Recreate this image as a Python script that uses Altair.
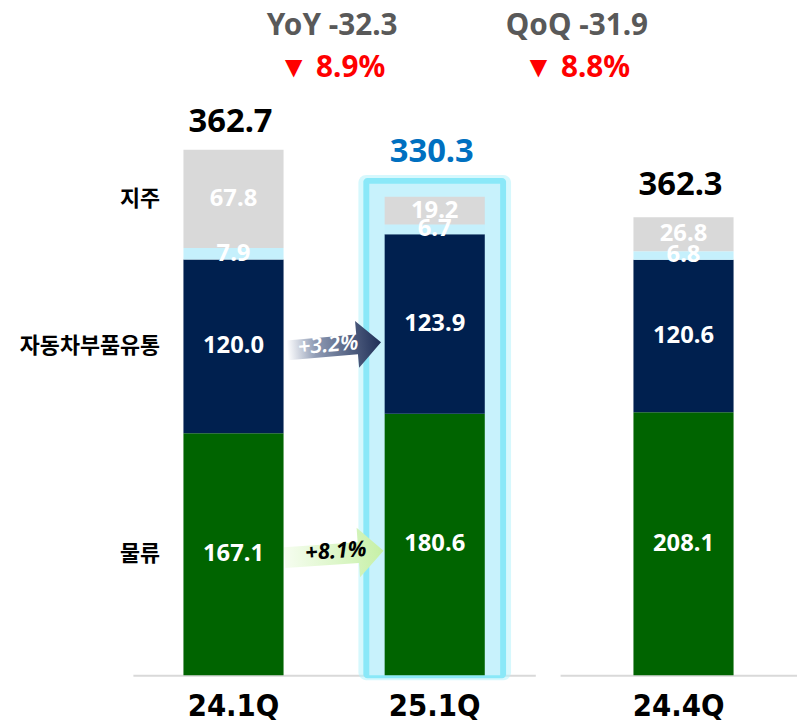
import altair as alt
import pandas as pd

# ---------------- data ----------------
quarters = ["24.1Q", "25.1Q", "24.4Q"]
seg_names = ["물류", "자동차부품유통", "기타", "지주"]
logistics = [167.1, 180.6, 208.1]      # 물류
auto_parts = [120.0, 123.9, 120.6]     # 자동차부품유통
others = [7.9, 6.7, 6.8]               # 기타 (light blue)
holding = [67.8, 19.2, 26.8]           # 지주
totals = [362.7, 330.3, 362.3]
seg_colors = ["#006400", "#00204f", "#c5f0fc", "#d9d9d9"]
growth_labels = ["+3.2%", "+8.1%"]     # 자동차부품유통, 물류 (24.1Q -> 25.1Q)
yoy_lines = ["YoY -32.3", "▼ 8.9%"]
qoq_lines = ["QoQ -31.9", "▼ 8.8%"]

# ---------------- layout constants ----------------
H = 665
LEFT_PX = 1.4613    # px per unit, left panel
RIGHT_PX = 1.2752   # px per unit, right panel
NUM_FONT = "Noto Sans"
KR_FONT = "Noto Sans CJK KR"
AX_FONT = "DejaVu Sans Condensed, Liberation Sans Narrow, Roboto, sans-serif"

rows = []
for i, q in enumerate(quarters):
    base = 0.0
    for s, vals in zip(seg_names, [logistics, auto_parts, others, holding]):
        v = vals[i]
        rows.append(dict(q=q, seg=s, v=v, y0=base, y1=base + v,
                         mid=base + v / 2, lab=f"{v:.1f}"))
        base += v
seg = pd.DataFrame(rows)
stack_top = seg.groupby("q")["y1"].max().to_dict()

tot = pd.DataFrame({"q": quarters, "total": totals,
                    "lab": [f"{t:.1f}" for t in totals]})
tot["top"] = tot["q"].map(stack_top)
tot["tc"] = ["#000000", "#0070c0", "#000000"]
# highlighted bar label sits above the glow frame
tot["ly"] = tot["top"] + tot["q"].map({"24.1Q": 0, "25.1Q": 17 / LEFT_PX, "24.4Q": 0})

left_q = quarters[:2]
right_q = quarters[2:]

yL = alt.Scale(domain=[0, H / LEFT_PX], nice=False, zero=True)
yR = alt.Scale(domain=[0, H / RIGHT_PX], nice=False, zero=True)
xL = alt.Scale(domain=left_q, paddingInner=0, paddingOuter=0)
xR = alt.Scale(domain=right_q, paddingInner=0, paddingOuter=0)
color = alt.Color("seg:N", scale=alt.Scale(domain=seg_names, range=seg_colors), legend=None)

segL = seg[seg.q.isin(left_q)]
segR = seg[seg.q.isin(right_q)]

# glow frame around 25.1Q
t25 = stack_top["25.1Q"]
glow = pd.DataFrame({
    "q": ["25.1Q"],
    "o_top": [t25 + 22 / LEFT_PX], "o_bot": [-5 / LEFT_PX],
    "m_top": [t25 + 19 / LEFT_PX], "m_bot": [-3 / LEFT_PX],
    "i_top": [t25 + 13 / LEFT_PX], "i_bot": [0.0],
})

def X(scale, **kw):
    return alt.X("q:N", scale=scale, title=None, **kw)

g1 = alt.Chart(glow).mark_bar(width=154, color="#b5f2fc", opacity=0.55, cornerRadius=8).encode(
    x=X(xL), y=alt.Y("o_top:Q", scale=yL, axis=None), y2="o_bot:Q")
g2 = alt.Chart(glow).mark_bar(width=144, color="#8ae8f8", cornerRadius=4).encode(
    x=X(xL), y=alt.Y("m_top:Q", scale=yL, axis=None), y2="m_bot:Q")
g3 = alt.Chart(glow).mark_bar(width=132, color="#c8f2fc").encode(
    x=X(xL), y=alt.Y("i_top:Q", scale=yL, axis=None), y2="i_bot:Q")

def bars(df, xs, ys, off=0):
    return alt.Chart(df).mark_bar(width=101, xOffset=off).encode(
        x=X(xs), y=alt.Y("y1:Q", scale=ys, axis=None), y2="y0:Q", color=color)

def seg_text(df, xs, ys, off=0):
    return alt.Chart(df).mark_text(color="white", font=NUM_FONT, fontSize=24,
                                   fontWeight="bold", baseline="middle", dx=off).encode(
        x=X(xs), y=alt.Y("mid:Q", scale=ys, axis=None), text="lab:N")

def tot_text(df, xs, ys, dy, off=0):
    return alt.Chart(df).mark_text(font=NUM_FONT, fontSize=33, fontWeight="bold",
                                   baseline="alphabetic", dy=dy, dx=off - 3).encode(
        x=X(xs), y=alt.Y("ly:Q", scale=ys, axis=None), text="lab:N",
        color=alt.Color("tc:N", scale=None))

# category labels left of the first bar
cat = segL[(segL.q == "24.1Q") & (segL.seg != "기타")]
cat_text = alt.Chart(cat).mark_text(font=KR_FONT, fontSize=22, fontWeight="bold",
                                    color="#000000", align="right", baseline="middle",
                                    dx=-74).encode(
    x=X(xL), y=alt.Y("mid:Q", scale=yL, axis=None), text="seg:N")

# growth arrows between 24.1Q and 25.1Q
arrow_path = "M -1 -0.21 L 0.49 -0.21 L 0.49 -0.5 L 1 0 L 0.49 0.5 L 0.49 0.21 L -1 0.21 Z"
ar = segL[(segL.q == "24.1Q") & (segL.seg.isin(["자동차부품유통", "물류"]))].copy()
ar["g"] = ar["seg"].map({"자동차부품유통": growth_labels[0], "물류": growth_labels[1]})
ar_auto = ar[ar.seg == "자동차부품유통"]
ar_log = ar[ar.seg == "물류"]

grad_navy = alt.Gradient(gradient="linear", x1=0, y1=0, x2=1, y2=0, stops=[
    alt.GradientStop(color="#ffffff", offset=0),
    alt.GradientStop(color="#8f9bb4", offset=0.3),
    alt.GradientStop(color="#1f2f57", offset=1)])
grad_green = alt.Gradient(gradient="linear", x1=0, y1=0, x2=1, y2=0, stops=[
    alt.GradientStop(color="#f6fdf0", offset=0),
    alt.GradientStop(color="#c6f0a6", offset=1)])

a1 = alt.Chart(ar_auto).mark_point(shape=arrow_path, size=9025, filled=True, fill=grad_navy,
                                   opacity=1, strokeWidth=0, angle=355).encode(
    x=X(xL, bandPosition=1), y=alt.Y("mid:Q", scale=yL, axis=None))
a2 = alt.Chart(ar_log).mark_point(shape=arrow_path, size=10000, filled=True, fill=grad_green,
                                  opacity=1, strokeWidth=0, angle=356).encode(
    x=X(xL, bandPosition=1), y=alt.Y("mid:Q", scale=yL, axis=None))
a1t = alt.Chart(ar_auto).mark_text(font=NUM_FONT, fontSize=22, fontStyle="italic",
                                   fontWeight=600, color="white", angle=355, dx=-6, dy=-2).encode(
    x=X(xL, bandPosition=1), y=alt.Y("mid:Q", scale=yL, axis=None), text="g:N")
a2t = alt.Chart(ar_log).mark_text(font=NUM_FONT, fontSize=22, fontStyle="italic",
                                  fontWeight="bold", color="black", angle=356, dx=2, dy=-3).encode(
    x=X(xL, bandPosition=1), y=alt.Y("mid:Q", scale=yL, axis=None), text="g:N")

# YoY / QoQ annotations
ann = pd.DataFrame({"q": ["25.1Q"], "yoy": [yoy_lines[0]], "yoyp": [yoy_lines[1]],
                    "qoq": [qoq_lines[0]], "qoqp": [qoq_lines[1]]})
def ann_text(field, band, dx, ypix, col):
    return alt.Chart(ann).mark_text(font=NUM_FONT, fontSize=30, fontWeight="bold",
                                    color=col, baseline="middle", dx=dx).encode(
        x=X(xL, bandPosition=band), y=alt.value(ypix), text=f"{field}:N")

ann_layers = [ann_text("yoy", 0, -2, 10, "#595959"), ann_text("yoyp", 0, -2, 52, "#ff0000"),
              ann_text("qoq", 1, 42, 10, "#595959"), ann_text("qoqp", 1, 42, 52, "#ff0000")]

totL = tot[tot.q.isin(left_q)]
totR = tot[tot.q.isin(right_q)]

RIGHT_SHIFT = 5
left = alt.layer(g1, g2, g3, bars(segL, xL, yL), seg_text(segL, xL, yL),
                 tot_text(totL, xL, yL, -18), cat_text, a1, a2, a1t, a2t,
                 *ann_layers).properties(width=406, height=H)
right = alt.layer(bars(segR, xR, yR, RIGHT_SHIFT), seg_text(segR, xR, yR, RIGHT_SHIFT),
                  tot_text(totR, xR, yR, -23, RIGHT_SHIFT)).properties(width=239, height=H)

chart = alt.hconcat(left, right, spacing=25, bounds="flush").properties(
    padding={"left": 11, "top": 0, "right": 0, "bottom": 5}
).configure_view(strokeWidth=0).configure_axisX(
    labelAngle=0, ticks=False, domainColor="#d9d9d9", domainWidth=2, grid=False,
    labelFont=AX_FONT, labelFontSize=31, labelFontWeight="bold",
    labelColor="#000000", labelPadding=17)

chart.save("out.html", embed_options={"renderer": "svg", "actions": False})
